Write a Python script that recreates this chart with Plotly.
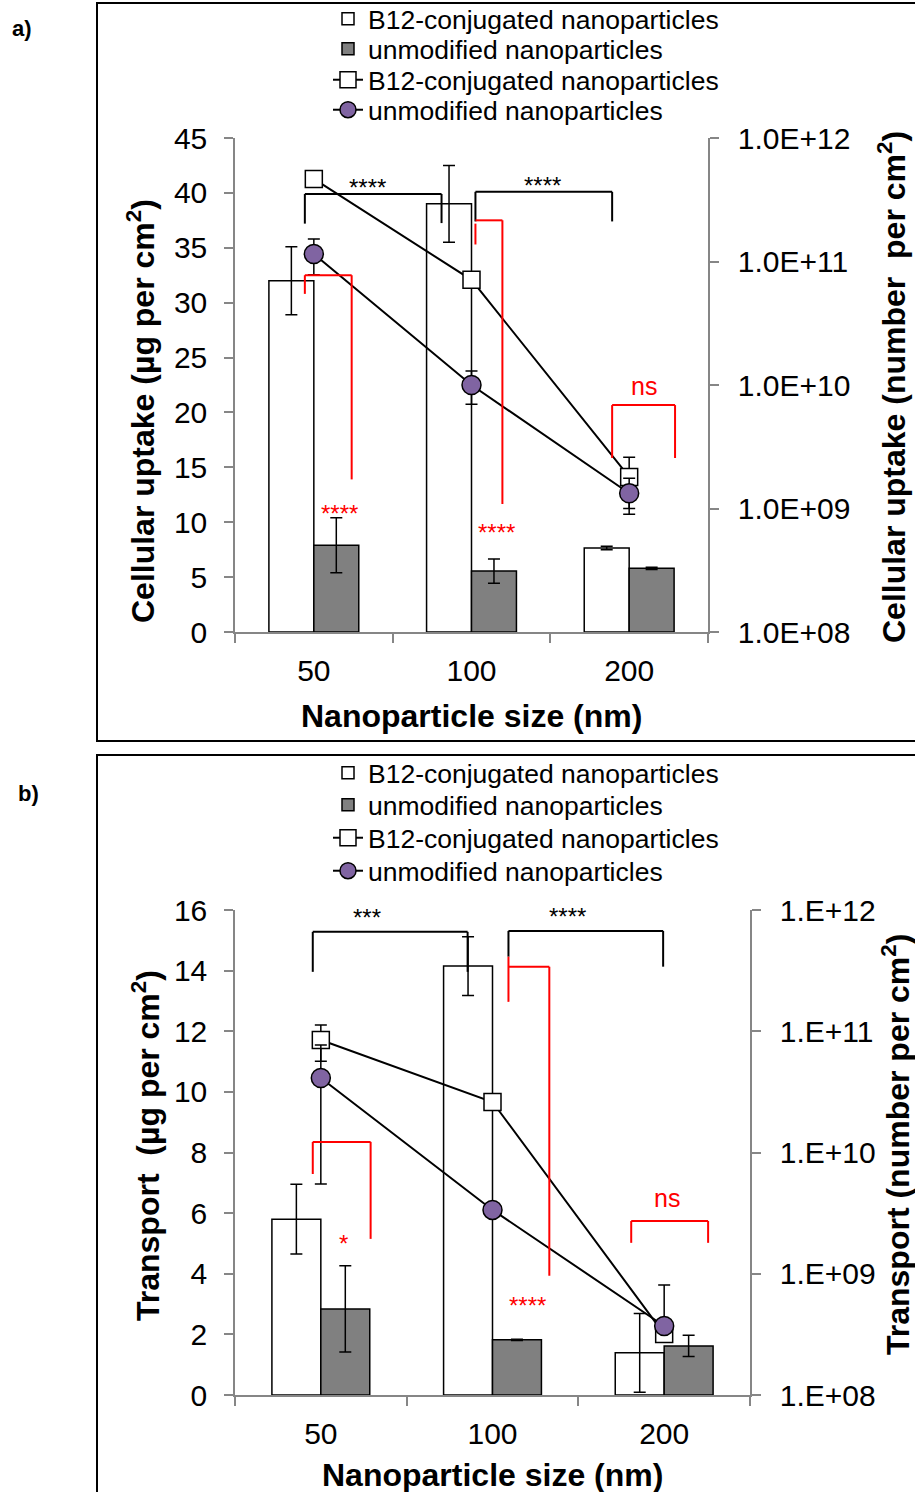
import plotly.graph_objects as go

W, H = 915, 1492
FONT = 'Arial, Liberation Sans, sans-serif'

sizes = ['50', '100', '200']

# a) cellular uptake, left axis (ug per cm2)
uptake_b12_ug = [32.0, 39.0, 7.65]
uptake_b12_ug_err = [3.1, 3.5, 0.15]
uptake_unmod_ug = [7.9, 5.55, 5.8]
uptake_unmod_ug_err = [2.5, 1.1, 0.1]
# a) cellular uptake, right axis (number per cm2)
uptake_b12_num = [4.66e11, 7.1e10, 1.8e9]
uptake_b12_num_err = [0, 0, 8.0e8]
uptake_unmod_num = [1.15e11, 1.0e10, 1.33e9]
uptake_unmod_num_err = [3.7e10, 3.0e9, 4.3e8]

# b) transport, left axis (ug per cm2)
transport_b12_ug = [5.8, 14.15, 1.39]
transport_b12_ug_err = [1.15, 0.97, 1.3]
transport_unmod_ug = [2.84, 1.82, 1.62]
transport_unmod_ug_err = [1.42, 0.02, 0.35]
# b) transport, right axis (number per cm2)
transport_b12_num = [8.47e10, 2.61e10, 3.18e8]
transport_b12_num_err = [2.8e10, 0, 0]
transport_unmod_num = [4.12e10, 3.36e9, 3.71e8]
transport_unmod_num_err_plus = [3.57e10, 0, 4.36e8]
transport_unmod_num_err_minus = [3.57e10, 0, 0]

log_ticks = [1e8, 1e9, 1e10, 1e11, 1e12]
log_text_a = ['1.0E+08', '1.0E+09', '1.0E+10', '1.0E+11', '1.0E+12']
log_text_b = ['1.E+08', '1.E+09', '1.E+10', '1.E+11', '1.E+12']

# significance brackets: (x0, x1, top, left leg end, right leg end, left leg start), in axis units
brackets_a_black = [(-0.057, 0.81, 39.9, 37.2, 37.25, None), (1.025, 1.892, 40.1, 37.4, 37.4, None)]
brackets_a_red = [(-0.057, 0.24, 32.5, 30.8, 13.9, None), (1.025, 1.196, 37.5, 35.3, 11.66, 37.2),
                  (1.892, 2.291, 20.67, 15.85, 15.85, None)]
labels_a = [(0.34, 40.5, '****', 'black'), (1.45, 40.7, '****', 'black'),
            (0.165, 10.8, '****', 'red'), (1.158, 9.1, '****', 'red'), (2.095, 22.4, 'ns', 'red')]
brackets_b_black = [(-0.047, 0.855, 15.28, 13.96, 13.96, None), (1.093, 1.994, 15.31, 14.46, 14.13, None)]
brackets_b_red = [(-0.047, 0.29, 8.35, 7.29, 5.15, None), (1.093, 1.331, 14.13, 12.97, 3.93, 14.46),
                  (1.808, 2.256, 5.74, 5.02, 5.02, None)]
labels_b = [(0.267, 15.75, '***', 'black'), (1.436, 15.78, '****', 'black'),
            (0.134, 5.0, '*', 'red'), (1.203, 2.95, '****', 'red'), (2.017, 6.5, 'ns', 'red')]


def px(x):
    return x / W


def py(y):
    return 1 - y / H


fig = go.Figure()


def add_panel(xa, ya, ya2, legends, b12_ug, b12_err, un_ug, un_err, b12_num, b12_num_err,
              un_num, un_plus, un_minus):
    err = dict(type='data', color='black', thickness=1.5, width=6)
    fig.add_trace(go.Bar(x=sizes, y=b12_ug, name='B12-conjugated nanoparticles', xaxis=xa, yaxis=ya,
                         marker=dict(color='white', line=dict(color='black', width=1.5)),
                         error_y=dict(array=b12_err, **err), legend=legends[0]))
    fig.add_trace(go.Bar(x=sizes, y=un_ug, name='unmodified nanoparticles', xaxis=xa, yaxis=ya,
                         marker=dict(color='#808080', line=dict(color='black', width=1.5)),
                         error_y=dict(array=un_err, **err), legend=legends[1]))
    fig.add_trace(go.Scatter(x=sizes, y=b12_num, name='B12-conjugated nanoparticles', xaxis=xa, yaxis=ya2,
                             mode='lines+markers', line=dict(color='black', width=2),
                             marker=dict(symbol='square', size=17, color='white',
                                         line=dict(color='black', width=1.5)),
                             error_y=dict(array=b12_num_err, **err), legend=legends[2]))
    fig.add_trace(go.Scatter(x=sizes, y=un_num, name='unmodified nanoparticles', xaxis=xa, yaxis=ya2,
                             mode='lines+markers', line=dict(color='black', width=2),
                             marker=dict(symbol='circle', size=19, color='#8064A2',
                                         line=dict(color='black', width=1.5)),
                             error_y=dict(array=un_plus, arrayminus=un_minus, **err), legend=legends[3]))


add_panel('x', 'y', 'y2', ['legend', 'legend2', 'legend3', 'legend4'],
          uptake_b12_ug, uptake_b12_ug_err, uptake_unmod_ug, uptake_unmod_ug_err,
          uptake_b12_num, uptake_b12_num_err, uptake_unmod_num, uptake_unmod_num_err, uptake_unmod_num_err)
add_panel('x2', 'y3', 'y4', ['legend5', 'legend6', 'legend7', 'legend8'],
          transport_b12_ug, transport_b12_ug_err, transport_unmod_ug,
          transport_unmod_ug_err, transport_b12_num, transport_b12_num_err, transport_unmod_num,
          transport_unmod_num_err_plus, transport_unmod_num_err_minus)

shapes = []


def add_brackets(brackets, color, xref, yref):
    for x0, x1, top, lb, rb, lt in brackets:
        seg = [(x0, lt if lt is not None else top, x0, lb), (x0, top, x1, top), (x1, top, x1, rb)]
        for a, b, c, d in seg:
            shapes.append(dict(type='line', xref=xref, yref=yref, x0=a, y0=b, x1=c, y1=d,
                               line=dict(color=color, width=2)))


add_brackets(brackets_a_black, 'black', 'x', 'y')
add_brackets(brackets_a_red, 'red', 'x', 'y')
add_brackets(brackets_b_black, 'black', 'x2', 'y3')
add_brackets(brackets_b_red, 'red', 'x2', 'y3')

# panel frames (right and bottom edges run off the page, as in the source figure)
shapes.append(dict(type='rect', xref='paper', yref='paper', x0=px(97), x1=px(940), y0=py(3), y1=py(741),
                   line=dict(color='black', width=2)))
shapes.append(dict(type='rect', xref='paper', yref='paper', x0=px(97), x1=px(940), y0=py(755), y1=py(1520),
                   line=dict(color='black', width=2)))

annotations = []
for labels, xref, yref in ((labels_a, 'x', 'y'), (labels_b, 'x2', 'y3')):
    for x, y, text, color in labels:
        size = 25 if text == 'ns' else 24
        annotations.append(dict(x=x, y=y, xref=xref, yref=yref, text=text, showarrow=False,
                                xanchor='center', yanchor='middle',
                                font=dict(size=size, color=color, family=FONT)))

title_font = dict(size=32, color='black', family=FONT)


def title(text, x, y, angle=0, size=None):
    font = dict(title_font, size=size) if size else title_font
    annotations.append(dict(x=px(x), y=py(y), xref='paper', yref='paper', text='<b>%s</b>' % text,
                            textangle=angle, showarrow=False, xanchor='center', yanchor='middle',
                            font=font))


title('Cellular uptake (µg per cm<sup>2</sup>)', 141, 411, -90)
title('Cellular uptake (number\u00a0\u00a0per cm<sup>2</sup>)', 892, 387, -90)
title('Nanoparticle size (nm)', 472, 716)
title('Transport\u00a0\u00a0(µg per cm<sup>2</sup>)', 146, 1146, -90)
title('Transport (number per cm<sup>2</sup>)', 896, 1145, -90)
title('Nanoparticle size (nm)', 492, 1475)
title('a)', 22, 28, size=22)
title('b)', 28, 793, size=22)

axis_common = dict(showline=True, linecolor='#868686', linewidth=1.5, ticks='outside', tickcolor='#868686',
                   ticklen=9, tickwidth=1.5, showgrid=False, zeroline=False, automargin=False,
                   tickfont=dict(size=30, color='black', family=FONT))

legend_rows = {'legend': 19, 'legend2': 49, 'legend3': 80, 'legend4': 110,
               'legend5': 773, 'legend6': 805, 'legend7': 838, 'legend8': 871}
legends = {}
for key, row in legend_rows.items():
    legends[key] = dict(x=px(328), y=py(row), xanchor='left', yanchor='middle', bgcolor='rgba(0,0,0,0)',
                        font=dict(size=26.5, color='black', family=FONT), itemwidth=30)

fig.update_layout(
    width=W, height=H, margin=dict(l=0, r=0, t=0, b=0, autoexpand=False),
    paper_bgcolor='white', plot_bgcolor='white',
    barmode='group', bargap=0.43, bargroupgap=0,
    showlegend=True,
    xaxis=dict(domain=[px(235), px(708)], anchor='y', tickson='boundaries', ticklabelstandoff=11,
               **axis_common),
    yaxis=dict(domain=[py(632), py(138)], anchor='x', range=[0, 45], dtick=5, ticklabelstandoff=11,
               **axis_common),
    yaxis2=dict(overlaying='y', anchor='x', side='right', type='log', range=[8, 12], tickvals=log_ticks,
                ticktext=log_text_a, ticklabelstandoff=13, **axis_common),
    xaxis2=dict(domain=[px(235), px(750)], anchor='y3', tickson='boundaries', ticklabelstandoff=11,
                **axis_common),
    yaxis3=dict(domain=[py(1395), py(910)], anchor='x2', range=[0, 16], dtick=2, ticklabelstandoff=11,
                **axis_common),
    yaxis4=dict(overlaying='y3', anchor='x2', side='right', type='log', range=[8, 12], tickvals=log_ticks,
                ticktext=log_text_b, ticklabelstandoff=13, **axis_common),
    shapes=shapes, annotations=annotations,
    **legends,
)

# drop the browser's default body margin so the figure sits at the page origin
fig.write_html('out.html', config={'displayModeBar': False},
               post_script="document.body.style.margin = '0';")
